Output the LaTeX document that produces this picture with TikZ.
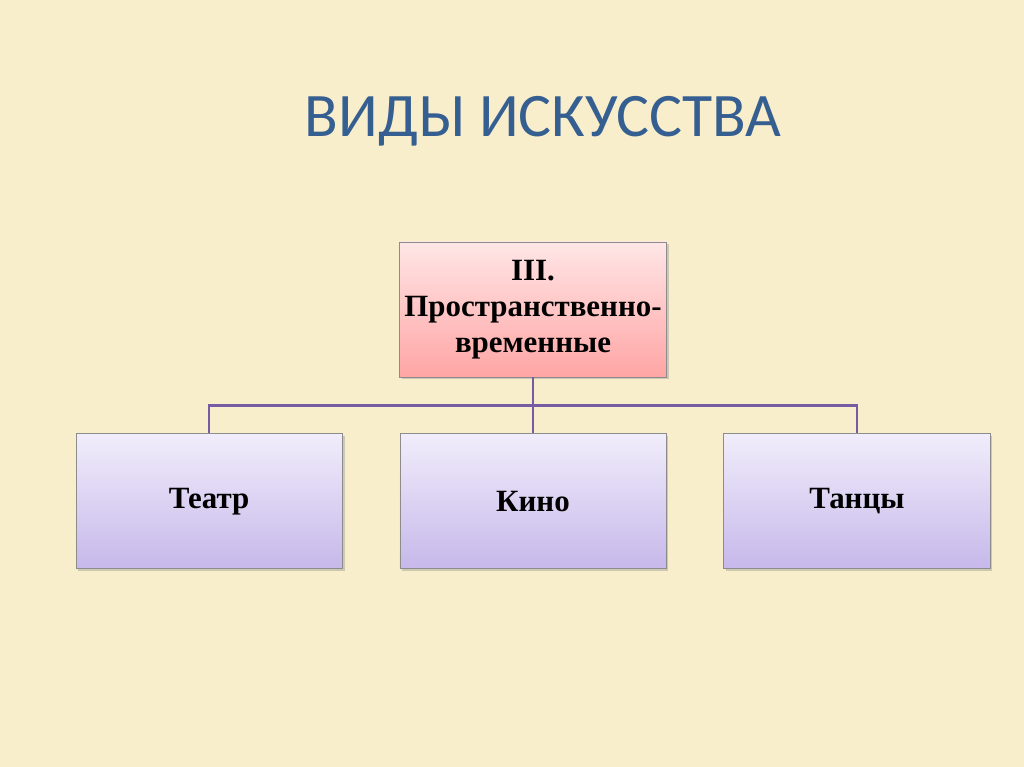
\documentclass[tikz,border=0pt]{standalone}
\usepackage{fontspec}
\setmainfont{Liberation Serif}
\newfontfamily\titlefont{Carlito}
\usetikzlibrary{calc,positioning,shadows}

\definecolor{paper}{RGB}{249,238,204}
\definecolor{titleblue}{RGB}{54,95,145}
\definecolor{linkviolet}{RGB}{118,92,165}
\definecolor{pinktop}{RGB}{255,230,230}
\definecolor{pinkbot}{RGB}{255,165,165}
\definecolor{lilactop}{RGB}{241,237,251}
\definecolor{lilacbot}{RGB}{198,184,234}

\begin{document}
\begin{tikzpicture}[
    x=0.025cm, y=-0.025cm,
    % general settings
    node distance=1.425cm,
    align=center,
    % nodes
    base/.style={rectangle, minimum width=6.65cm, minimum height=3.375cm,
                 draw=black!45, line width=0.6pt,
                 font=\fontsize{22}{25.5}\selectfont\bfseries,
                 drop shadow={opacity=0.35, shadow xshift=0.06cm, shadow yshift=-0.06cm}},
    group/.style={base, top color=pinktop, bottom color=pinkbot},
    kind/.style={base, top color=lilactop, bottom color=lilacbot},
    heading/.style={text=titleblue, font=\titlefont\fontsize{44}{48}\selectfont},
    % connectors
    link/.style={linkviolet, line width=2pt},
  ]

  % slide background
  \fill[paper] (0,0) rectangle (1024,767);
  \useasboundingbox (0,0) rectangle (1024,767);

  \node (title)  [heading] at (543,121)     {ВИДЫ ИСКУССТВА};

  \node (spatio) [group]   at (533,309.5)   {III.\\
                                             Пространственно-\\
                                             временные};

  \node (kino)   [kind, below=1.4cm of spatio] {Кино};
  \node (teatr)  [kind, left=1.425cm of kino]  {Театр};
  \node (tantsy) [kind, right=1.425cm of kino] {Танцы};

  % bus line between the rows
  \coordinate (bus) at ($(spatio.south)!0.5!(kino.north)$);

  \draw[link] (spatio.south) -- (kino.north);
  \draw[link] (teatr.north) |- (bus) -| (tantsy.north);

\end{tikzpicture}
\end{document}
